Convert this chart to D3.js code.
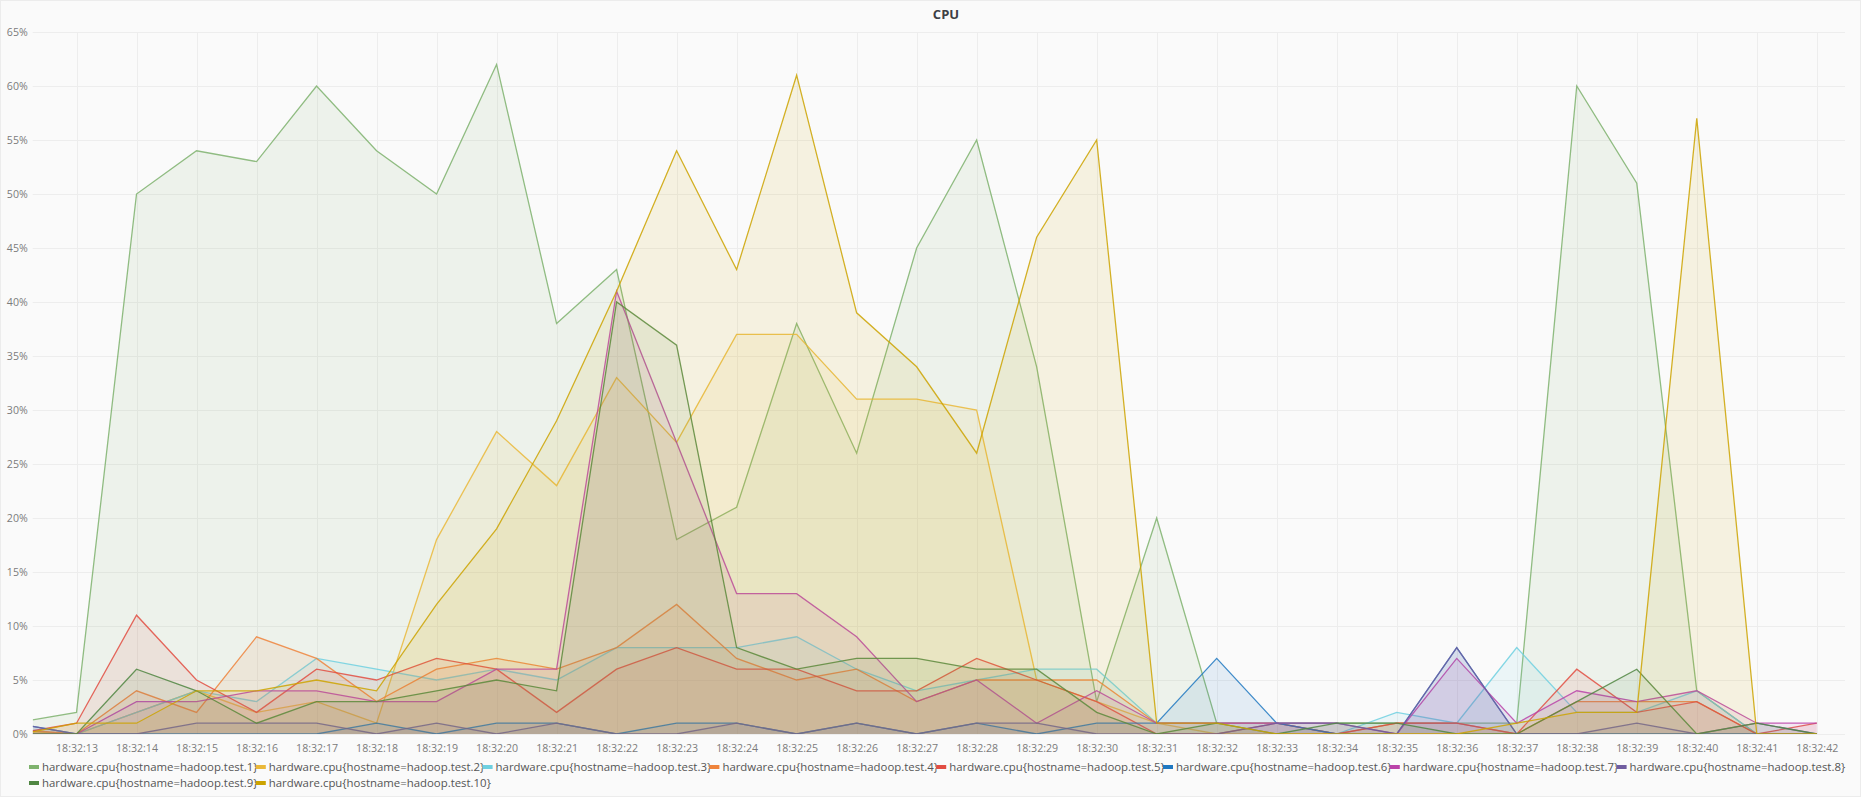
<!DOCTYPE html>
<html><head><meta charset="utf-8">
<script src="https://cdn.jsdelivr.net/npm/d3@7"></script>
<style>
html,body{margin:0;padding:0;background:#fafafa;}
svg{display:block;font-family:"Open Sans",sans-serif;}
</style></head><body>
<svg id="chart" width="1861" height="797"></svg>
<script>
// ---------- data ----------
const chartTitle = "CPU";
// seconds after 18:32:00 (first sample sits at the left edge of the panel)
const timeSeconds = [12.27,13,14,15,16,17,18,19,20,21,22,23,24,25,26,27,28,29,30,31,32,33,34,35,36,37,38,39,40,41,42];
const tickSeconds = [13,14,15,16,17,18,19,20,21,22,23,24,25,26,27,28,29,30,31,32,33,34,35,36,37,38,39,40,41,42];
const tickLabels = ["18:32:13","18:32:14","18:32:15","18:32:16","18:32:17","18:32:18","18:32:19","18:32:20","18:32:21","18:32:22","18:32:23","18:32:24","18:32:25","18:32:26","18:32:27","18:32:28","18:32:29","18:32:30","18:32:31","18:32:32","18:32:33","18:32:34","18:32:35","18:32:36","18:32:37","18:32:38","18:32:39","18:32:40","18:32:41","18:32:42"];
const yTicks = [0,5,10,15,20,25,30,35,40,45,50,55,60,65];

const seriesNames = [
  "hardware.cpu{hostname=hadoop.test.1}",
  "hardware.cpu{hostname=hadoop.test.2}",
  "hardware.cpu{hostname=hadoop.test.3}",
  "hardware.cpu{hostname=hadoop.test.4}",
  "hardware.cpu{hostname=hadoop.test.5}",
  "hardware.cpu{hostname=hadoop.test.6}",
  "hardware.cpu{hostname=hadoop.test.7}",
  "hardware.cpu{hostname=hadoop.test.8}",
  "hardware.cpu{hostname=hadoop.test.9}",
  "hardware.cpu{hostname=hadoop.test.10}"
];
const seriesColors = ["#7EB26D","#EAB839","#6ED0E0","#EF843C","#E24D42","#1F78C1","#BA43A9","#705DA0","#508642","#CCA300"];

// CPU % per sample
const test1  = [1.3,2,50,54,53,60,54,50,62,38,43,18,21,38,26,45,55,34,3,20,1,1,1,1,1,1,60,51,4,0,0];
const test2  = [0.2,0,2,4,2,3,1,18,28,23,33,27,37,37,31,31,30,5,3,1,0,0,0,0,0,0,0,0,0,0,0];
const test3  = [0,0,2,4,3,7,6,5,6,5,8,8,8,9,6,4,5,6,6,1,1,1,0,2,1,8,2,2,4,0,0];
const test4  = [0.3,0,4,2,9,7,3,6,7,6,8,12,7,5,6,3,5,5,5,1,1,1,0,1,1,0,3,3,3,0,0];
const test5  = [0.3,1,11,5,2,6,5,7,6,2,6,8,6,6,4,4,7,5,3,0,0,1,0,1,1,0,6,2,3,0,1];
const test6  = [0.7,0,0,0,0,0,1,0,1,1,0,1,1,0,1,0,1,0,1,1,7,1,0,0,8,0,0,0,0,0,0];
const test7  = [0,0,3,3,4,4,3,3,6,6,41,27,13,13,9,3,5,1,4,1,1,1,1,0,7,1,4,3,4,1,1];
const test8  = [0.7,0,0,1,1,1,0,1,0,1,0,0,1,0,1,0,1,1,0,0,0,1,1,0,8,0,0,1,0,1,0];
const test9  = [0,0,6,4,1,3,3,4,5,4,40,36,8,6,7,7,6,6,2,0,1,0,1,1,0,0,3,6,0,1,0];
const test10 = [0.2,1,1,4,4,5,4,12,19,29,41,54,43,61,39,34,26,46,55,1,1,0,0,0,0,1,2,2,57,0,0];
const seriesValues = [test1,test2,test3,test4,test5,test6,test7,test8,test9,test10];

// ---------- layout ----------
const W = 1861, H = 797;
const plot = {left: 32.7, right: 1845, top: 32, bottom: 734};
const svg = d3.select("#chart");

svg.append("rect").attr("x",0.5).attr("y",0.5).attr("width",W-1).attr("height",H-1)
  .attr("fill","#fafafa").attr("stroke","#ececec");

const x = d3.scaleLinear().domain([timeSeconds[0], 42.47]).range([plot.left, plot.right]);
const y = d3.scaleLinear().domain([0, 65]).range([plot.bottom, plot.top]);

// grid
const grid = svg.append("g").attr("stroke","#ededed").attr("stroke-width",1);
grid.selectAll("line.h").data(yTicks).join("line").attr("class","h")
  .attr("x1",plot.left).attr("x2",plot.right)
  .attr("y1",d=>Math.round(y(d))+0.5).attr("y2",d=>Math.round(y(d))+0.5);
grid.selectAll("line.v").data(tickSeconds).join("line").attr("class","v")
  .attr("y1",plot.top).attr("y2",plot.bottom)
  .attr("x1",d=>Math.round(x(d))+0.5).attr("x2",d=>Math.round(x(d))+0.5);

// title
svg.append("text").attr("x",946).attr("y",19).attr("text-anchor","middle")
  .attr("font-size","13px").attr("font-weight","bold").attr("fill","#3d3f45").text(chartTitle);

// axes
const xAxis = d3.axisBottom(x).tickValues(tickSeconds)
  .tickFormat((d,i)=>tickLabels[i]).tickSize(0).tickPadding(10);
const gx = svg.append("g").attr("transform",`translate(0,${plot.bottom})`).call(xAxis);
gx.select(".domain").remove();
gx.selectAll("text").attr("font-size","10.6px").attr("fill","#7b7b7b").attr("font-family","Open Sans");

const yAxis = d3.axisLeft(y).tickValues(yTicks).tickFormat(d=>d+"%").tickSize(0).tickPadding(5);
const gy = svg.append("g").attr("transform",`translate(${plot.left},0)`).call(yAxis);
gy.select(".domain").remove();
gy.selectAll("text").attr("font-size","10.6px").attr("fill","#7b7b7b").attr("font-family","Open Sans");

// series
svg.append("clipPath").attr("id","clip").append("rect")
  .attr("x",plot.left).attr("y",plot.top-2).attr("width",plot.right-plot.left).attr("height",plot.bottom-plot.top+2);
const area = d3.area().x((d,i)=>x(timeSeconds[i])).y0(y(0)).y1(d=>y(d));
const line = d3.line().x((d,i)=>x(timeSeconds[i])).y(d=>y(d));
const gs = svg.append("g").attr("clip-path","url(#clip)");
seriesValues.forEach((vals,k)=>{
  gs.append("path").attr("d",area(vals)).attr("fill",seriesColors[k]).attr("fill-opacity",0.1);
  gs.append("path").attr("d",line(vals)).attr("fill","none").attr("stroke",seriesColors[k])
    .attr("stroke-width",1.3).attr("stroke-opacity",0.85).attr("stroke-linejoin","miter");
});

// legend
const legend = svg.append("g");
seriesNames.forEach((name,k)=>{
  const col = k % 8, row = Math.floor(k/8);
  const lx = 29 + col*226.8, ly = 767 + row*16;
  legend.append("rect").attr("x",lx).attr("y",ly-2).attr("width",10).attr("height",4).attr("fill",seriesColors[k]);
  legend.append("text").attr("x",lx+13).attr("y",ly).attr("dy","0.35em")
    .attr("font-size","11.4px").attr("fill","#555").text(name);
});
</script>
</body></html>
